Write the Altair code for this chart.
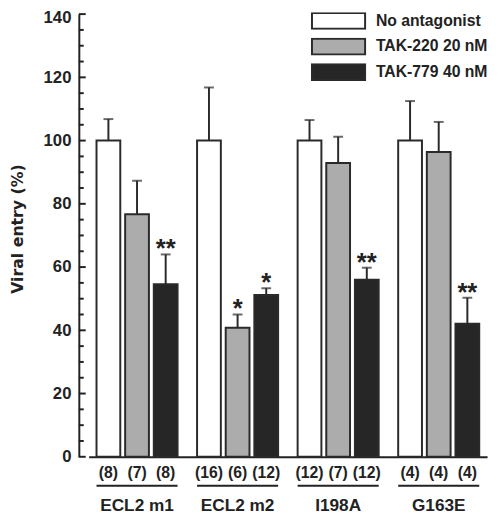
import altair as alt
import pandas as pd

groups = ["ECL2 m1", "ECL2 m2", "I198A", "G163E"]
series = ["No antagonist", "TAK-220 20 nM", "TAK-779 40 nM"]
means = [
    [100, 76.7, 54.6],
    [100, 40.8, 51.2],
    [100, 92.9, 56.0],
    [100, 96.4, 42.1],
]
errors = [
    [6.8, 10.6, 9.4],
    [16.8, 4.2, 2.1],
    [6.5, 8.3, 3.8],
    [12.5, 9.5, 8.2],
]
counts = [
    ["(8)", "(7)", "(8)"],
    ["(16)", "(6)", "(12)"],
    ["(12)", "(7)", "(12)"],
    ["(4)", "(4)", "(4)"],
]
stars = [
    ["", "", "**"],
    ["", "*", "*"],
    ["", "", "**"],
    ["", "", "**"],
]
fill_colors = ["#ffffff", "#acacac", "#262626"]
major_ticks = [0, 20, 40, 60, 80, 100, 120, 140]
minor_ticks = [5, 10, 15, 25, 30, 35, 45, 50, 55, 65, 70, 75, 85, 90, 95,
               105, 110, 115, 125, 130, 135]

rows = []
for gi, g in enumerate(groups):
    for si, s in enumerate(series):
        rows.append({
            "group": g, "series": s,
            "mean": means[gi][si],
            "top": means[gi][si] + errors[gi][si],
            "n": counts[gi][si],
            "star": stars[gi][si],
        })
df = pd.DataFrame(rows)
df_groups = pd.DataFrame({"group": groups})
df_major = pd.DataFrame({"v": major_ticks})
df_minor = pd.DataFrame({"v": minor_ticks})

FONT = "Liberation Sans"
INK = "#222222"

x_axis = alt.Axis(title=None, ticks=False, labelAngle=0, labelPadding=41,
                  labelFont=FONT, labelFontSize=17.5, labelFontWeight="bold",
                  labelColor=INK, domainColor=INK, domainWidth=2)
x_scale = alt.Scale(paddingInner=0.194, paddingOuter=0.078)
x_enc = alt.X("group:N", sort=groups, scale=x_scale, axis=x_axis)
xo_enc = alt.XOffset("series:N", sort=series,
                     scale=alt.Scale(paddingInner=0.17, paddingOuter=0))

y_scale = alt.Scale(domain=[0, 140], nice=False, zero=True)
y_axis = alt.Axis(title="Viral entry (%)", values=major_ticks,
                  ticks=False, tickSize=0, grid=False, offset=10,
                  domainColor=INK, domainWidth=2, labelPadding=8,
                  labelFont=FONT, labelFontSize=17,
                  labelFontWeight="bold", labelColor=INK,
                  labelOffset={"condition": {"test": "datum.value == 140", "value": 4}, "value": 0},
                  titleFont="DejaVu Sans", titleFontSize=16,
                  titleFontWeight="bold", titleColor=INK,
                  titleAngle=270, titleX=-57, titleY=218,
                  titleAlign="center", titleBaseline="alphabetic")


def yq(field):
    return alt.Y(field, scale=y_scale, axis=y_axis)


bars = alt.Chart(df).mark_bar(stroke="#2a2a2a", strokeWidth=2).encode(
    x=x_enc,
    xOffset=xo_enc,
    y=yq("mean:Q"),
    color=alt.Color("series:N", sort=series,
                    scale=alt.Scale(domain=series, range=fill_colors),
                    legend=alt.Legend(
                        title=None, orient="none", legendX=226, legendY=-2,
                        padding=0, symbolType="M-1,-0.296H1V0.296H-1Z",
                        symbolSize=2916, symbolStrokeColor="#2a2a2a",
                        symbolStrokeWidth=2, symbolOpacity=1,
                        clipHeight=18, rowPadding=8, labelOffset=10,
                        labelFont=FONT, labelFontSize=16,
                        labelFontWeight="bold", labelColor=INK,
                        labelLimit=300)),
)

err_rules = alt.Chart(df).mark_rule(color="#2a2a2a", strokeWidth=2).encode(
    x=x_enc, xOffset=xo_enc,
    y=yq("mean:Q"),
    y2="top:Q",
)

caps = alt.Chart(df).mark_tick(color="#2a2a2a", thickness=2, size=10).encode(
    x=x_enc, xOffset=xo_enc,
    y=yq("top:Q"),
)

star_text = alt.Chart(df).mark_text(
    font=FONT, fontSize=26, fontWeight="bold", color=INK,
    baseline="alphabetic", dy=3,
).encode(
    x=x_enc, xOffset=xo_enc,
    y=yq("top:Q"),
    text="star:N",
)

count_text = alt.Chart(df).mark_text(
    font=FONT, fontSize=16, fontWeight="bold", color=INK, baseline="middle",
).encode(
    x=x_enc, xOffset=xo_enc,
    y=alt.value(467),
    text="n:N",
)

underline = alt.Chart(df_groups).mark_bar(color=INK).encode(
    x=x_enc,
    y=alt.value(478.5), y2=alt.value(480.5),
)

major_rules = alt.Chart(df_major).mark_rule(color=INK, strokeWidth=2).encode(
    y=yq("v:Q"),
    x=alt.value(-10), x2=alt.value(-3),
)
minor_rules = alt.Chart(df_minor).mark_rule(color=INK, strokeWidth=2).encode(
    y=yq("v:Q"),
    x=alt.value(-10), x2=alt.value(-5),
)

chart = alt.layer(
    bars, err_rules, caps, star_text, count_text, underline,
    major_rules, minor_rules,
).properties(
    width=405, height=450,
    autosize=alt.AutoSizeParams(type="none"),
    padding={"left": 82, "top": 2, "right": 5, "bottom": 57},
    background="white",
).configure_view(stroke=None)

chart.save("out.html", embed_options={"renderer": "svg", "actions": False})
